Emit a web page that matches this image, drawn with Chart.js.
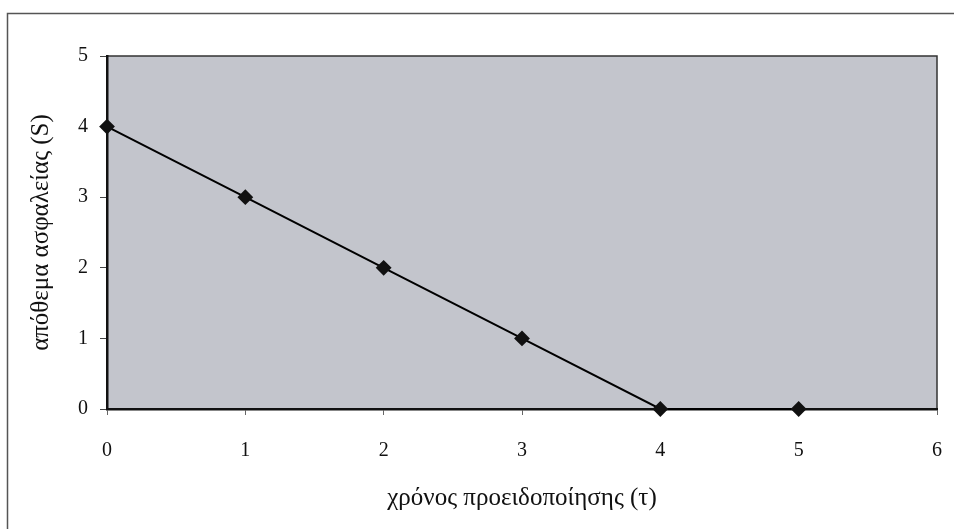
<!DOCTYPE html>
<html>
<head>
<meta charset="utf-8">
<script src="https://cdn.jsdelivr.net/npm/chart.js@4/dist/chart.umd.min.js"></script>
<style>
  html, body { margin: 0; padding: 0; background: #fff; }
  #wrap { width: 954px; height: 529px; }
</style>
</head>
<body>
<div id="wrap"><canvas id="safetyChart" width="954" height="529"></canvas></div>
<script>
// Απόθεμα ασφαλείας ανά χρόνο προειδοποίησης
const leadTimes = [0, 1, 2, 3, 4, 5];
const safetyStock = [4, 3, 2, 1, 0, 0];
const xTicks = [0, 1, 2, 3, 4, 5, 6];
const yTicks = [0, 1, 2, 3, 4, 5];

const serif = "'Liberation Serif', 'Times New Roman', serif";

// γκρι φόντο περιοχής και εξωτερικό πλαίσιο
const framePlugin = {
  id: 'frame',
  beforeDraw(chart) {
    const { ctx, chartArea: a } = chart;
    ctx.save();
    ctx.fillStyle = '#ffffff';
    ctx.fillRect(0, 0, chart.width, chart.height);
    ctx.strokeStyle = '#555';
    ctx.lineWidth = 1.5;
    ctx.strokeRect(7.5, 13.5, chart.width + 20, chart.height + 20);
    ctx.fillStyle = '#c3c5cc';
    ctx.fillRect(a.left, a.top, a.right - a.left, a.bottom - a.top);
    ctx.strokeStyle = '#333';
    ctx.lineWidth = 1.5;
    ctx.strokeRect(a.left, a.top, a.right - a.left, a.bottom - a.top);
    ctx.restore();
  }
};

const ctxSafety = document.getElementById('safetyChart').getContext('2d');
new Chart(ctxSafety, {
  type: 'line',
  data: {
    datasets: [{
      label: 'S',
      data: leadTimes.map((t, i) => ({ x: t, y: safetyStock[i] })),
      borderColor: '#000',
      backgroundColor: '#000',
      borderWidth: 2,
      tension: 0,
      pointStyle: 'rectRot',
      pointRadius: 6.5,
      pointBackgroundColor: '#111',
      pointBorderColor: '#111',
      clip: false
    }]
  },
  options: {
    responsive: false,
    animation: false,
    layout: { padding: { left: 0, top: 56, right: 17, bottom: 0 } },
    plugins: {
      legend: { display: false },
      tooltip: { enabled: false }
    },
    scales: {
      x: {
        type: 'linear',
        min: 0,
        max: 6,
        afterBuildTicks: (s) => { s.ticks = xTicks.map(v => ({ value: v })); },
        afterFit: (s) => { s.height = 120; s.paddingLeft = 0; s.paddingRight = 0; },
        border: { color: '#111', width: 2.5 },
        grid: { drawOnChartArea: false, tickLength: 6, color: '#666' },
        ticks: { color: '#111', padding: 24, maxRotation: 0, font: { family: serif, size: 20 } },
        title: {
          display: true,
          text: 'χρόνος προειδοποίησης (τ)',
          color: '#111',
          padding: { bottom: 16 },
          font: { family: serif, size: 25 }
        }
      },
      y: {
        min: 0,
        max: 5,
        afterBuildTicks: (s) => { s.ticks = yTicks.map(v => ({ value: v })); },
        afterFit: (s) => { s.width = 107; s.paddingTop = 0; s.paddingBottom = 0; },
        border: { color: '#111', width: 2.5 },
        grid: { drawOnChartArea: false, tickLength: 7, color: '#444' },
        ticks: { color: '#111', padding: 12, font: { family: serif, size: 20 } },
        title: {
          display: true,
          text: 'απόθεμα ασφαλείας (S)',
          color: '#111',
          padding: { top: 26 },
          font: { family: serif, size: 25 }
        }
      }
    }
  },
  plugins: [framePlugin]
});
</script>
</body>
</html>
